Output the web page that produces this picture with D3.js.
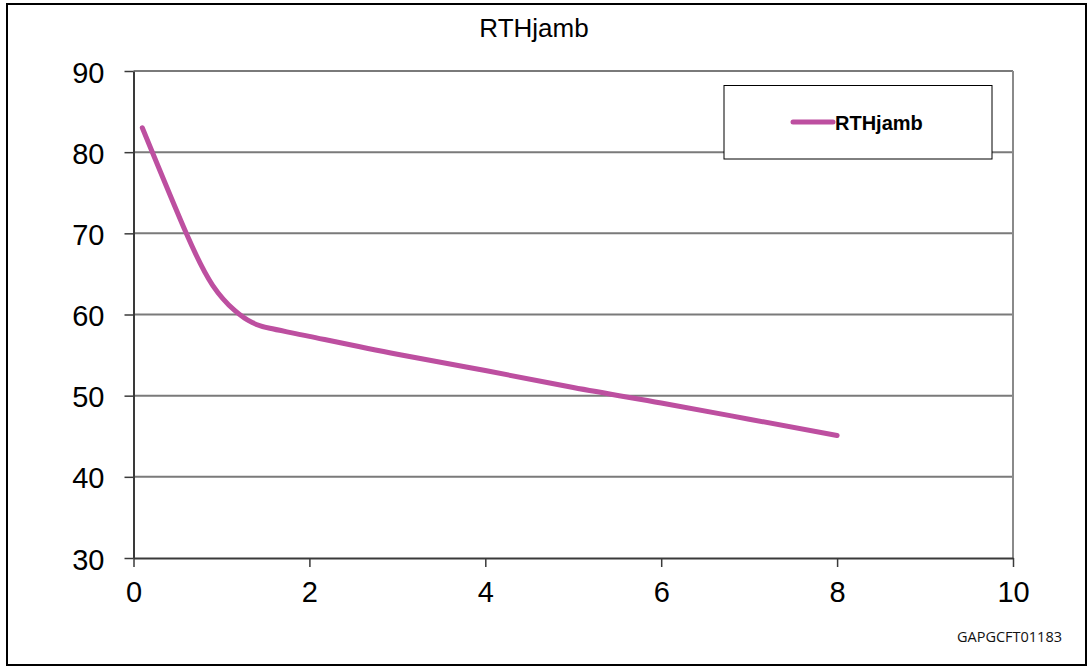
<!DOCTYPE html>
<html>
<head>
<meta charset="utf-8">
<script src="https://cdn.jsdelivr.net/npm/d3@7"></script>
<style>
    body { margin: 0; background: #fff; }
    svg { display: block; font-family: Arial, "Liberation Sans", sans-serif; }
</style>
</head>
<body>
<div id="chart"></div>
<script>
// RTHjamb curve
const seriesName = "RTHjamb";
const xValues = [0.1, 0.6, 0.9, 1.15, 1.35, 1.55, 2, 3, 4, 5, 6, 7, 8];
const yValues = [83, 70, 63.6, 60.5, 59.0, 58.3, 57.3, 55.1, 53.1, 51, 49.1, 47.1, 45.1];
const xTicks = [0, 2, 4, 6, 8, 10];
const yTicks = [30, 40, 50, 60, 70, 80, 90];
const footerText = "GAPGCFT01183";

const W = 1087, H = 666;
const margin = {top: 71, right: 74, bottom: 108, left: 133.5};
const width = W - margin.left - margin.right;
const height = H - margin.top - margin.bottom;

const svg = d3.select("#chart").append("svg")
    .attr("width", W)
    .attr("height", H);

// outer frame
svg.append("rect")
    .attr("x", 7).attr("y", 4)
    .attr("width", W - 8).attr("height", H - 5)
    .attr("fill", "none")
    .attr("stroke", "#000")
    .attr("stroke-width", 2);

svg.append("text")
    .attr("x", 534).attr("y", 37)
    .attr("text-anchor", "middle")
    .style("font-size", "26px")
    .text(seriesName);

const g = svg.append("g")
    .attr("transform", `translate(${margin.left},${margin.top})`);

const x = d3.scaleLinear().domain([0, 10]).range([0, width]);
const y = d3.scaleLinear().domain([30, 90]).range([height, 0]);

// grid lines
g.append("g")
    .selectAll("line")
    .data(yTicks.filter(d => d > 30))
    .enter().append("line")
    .attr("x1", 0).attr("x2", width)
    .attr("y1", d => y(d)).attr("y2", d => y(d))
    .attr("stroke", "#7a7a7a")
    .attr("stroke-width", 2);

// right edge of plot
g.append("line")
    .attr("x1", width).attr("x2", width)
    .attr("y1", 0).attr("y2", height)
    .attr("stroke", "#8a8a8a")
    .attr("stroke-width", 2);

const xAxis = g.append("g")
    .attr("transform", `translate(0,${height})`)
    .call(d3.axisBottom(x).tickValues(xTicks).tickSize(9).tickSizeOuter(0).tickPadding(14));

const yAxis = g.append("g")
    .call(d3.axisLeft(y).tickValues(yTicks).tickSize(9).tickSizeOuter(0).tickPadding(20));

[xAxis, yAxis].forEach(a => {
    a.select(".domain").attr("stroke", "#3a3a3a").attr("stroke-width", 2);
    a.selectAll(".tick line").attr("stroke", "#3a3a3a").attr("stroke-width", 1.5);
    a.selectAll("text")
        .attr("fill", "#000")
        .style("font-family", "Arial, 'Liberation Sans', sans-serif")
        .style("font-size", "29px");
});
xAxis.selectAll("text").attr("dy", "0.71em");
yAxis.selectAll("text").attr("dy", "0.38em");

const data = xValues.map((d, i) => ({x: d, y: yValues[i]}));

const line = d3.line()
    .x(d => x(d.x))
    .y(d => y(d.y))
    .curve(d3.curveNatural);

g.append("path")
    .datum(data)
    .attr("d", line)
    .attr("fill", "none")
    .attr("stroke", "#bd4fa0")
    .attr("stroke-width", 5)
    .attr("stroke-linecap", "round")
    .attr("stroke-linejoin", "round");

// legend
const legend = svg.append("g").attr("transform", "translate(724,85.5)");
legend.append("rect")
    .attr("width", 268).attr("height", 73.5)
    .attr("fill", "#fff")
    .attr("stroke", "#000")
    .attr("stroke-width", 1);
legend.append("line")
    .attr("x1", 69).attr("x2", 109)
    .attr("y1", 36.5).attr("y2", 36.5)
    .attr("stroke", "#bd4fa0")
    .attr("stroke-width", 5)
    .attr("stroke-linecap", "round");
legend.append("text")
    .attr("x", 111).attr("y", 44)
    .style("font-size", "20px")
    .style("font-weight", "bold")
    .text(seriesName);

svg.append("text")
    .attr("x", 1062).attr("y", 642)
    .attr("text-anchor", "end")
    .style("font-family", "'Open Sans', sans-serif")
    .style("font-size", "14.5px")
    .attr("fill", "#111")
    .text(footerText);
</script>
</body>
</html>
